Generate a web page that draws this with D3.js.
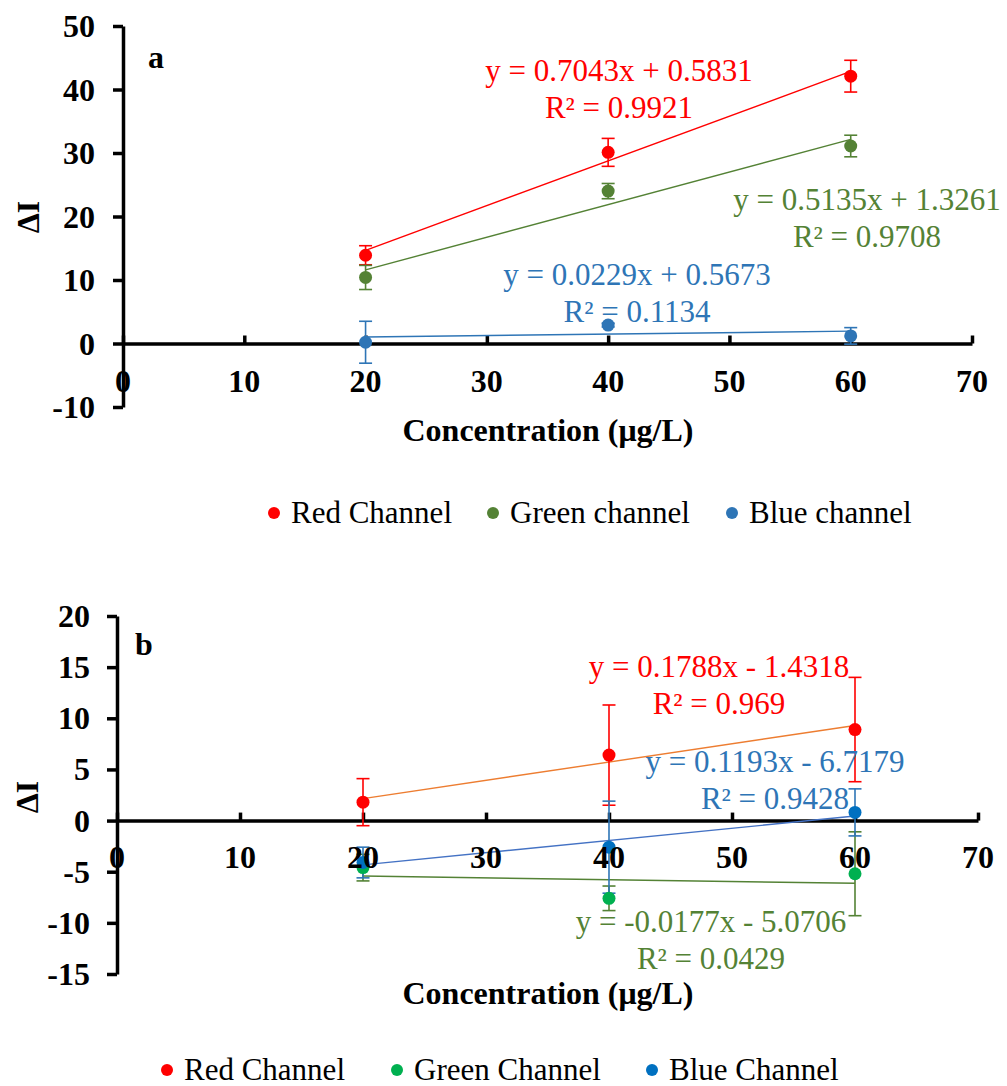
<!DOCTYPE html>
<html>
<head>
<meta charset="utf-8">
<script src="https://cdn.jsdelivr.net/npm/d3@7"></script>
<style>
  body { margin: 0; background: #fff; }
  svg { display: block; font-family: "Liberation Serif", "Times New Roman", serif; }
</style>
</head>
<body>
<svg width="1007" height="1086"></svg>
<script>
// data
const concentration = [20, 40, 60];
const xTickValues = [0, 10, 20, 30, 40, 50, 60, 70];
const yTicksA = [-10, 0, 10, 20, 30, 40, 50];
const yTicksB = [-15, -10, -5, 0, 5, 10, 15, 20];

const namesA = ["Red Channel", "Green channel", "Blue channel"];
const namesB = ["Red Channel", "Green Channel", "Blue Channel"];

const redA = [13.9, 30.1, 42.1];
const redErrA = [1.5, 2.2, 2.5];
const greenA = [10.4, 24.0, 31.1];
const greenErrA = [1.9, 1.2, 1.7];
const blueA = [0.2, 2.9, 1.2];
const blueErrA = [3.3, 0.3, 1.3];
const slopesA = [0.7043, 0.5135, 0.0229];
const interceptsA = [0.5831, 1.3261, 0.5673];
const r2A = ["0.9921", "0.9708", "0.1134"];

const redB = [1.8, 6.4, 8.9];
const redErrB = [2.3, 4.9, 5.1];
const greenB = [-4.6, -7.6, -5.2];
const greenErrB = [1.3, 1.2, 4.1];
const blueB = [-4.1, -2.6, 0.8];
const blueErrB = [1.5, 4.5, 2.3];
const slopesB = [0.1788, -0.0177, 0.1193];
const interceptsB = [-1.4318, -5.0706, -6.7179];
const r2B = ["0.969", "0.0429", "0.9428"];

const svg = d3.select("svg");

function eqText(s, b) {
    return `y = ${s.toFixed(4)}x ${b < 0 ? "-" : "+"} ${Math.abs(b).toFixed(4)}`;
}

function panel(p) {
    const g = svg.append("g");
    const x = d3.scaleLinear().domain([0, 70]).range(p.xr);
    const y = d3.scaleLinear().domain(p.yd).range(p.yr);

    // axes (lines + ticks)
    g.append("g")
        .attr("transform", `translate(0,${y(0)})`)
        .call(d3.axisBottom(x).tickValues(xTickValues).tickSizeInner(-8).tickSizeOuter(0).tickFormat(""))
        .call(a => a.selectAll("path,line").attr("stroke", "#000").attr("stroke-width", 3.5));
    g.append("g")
        .attr("transform", `translate(${x(0)},0)`)
        .call(d3.axisLeft(y).tickValues(p.yTicks).tickSizeInner(10).tickSizeOuter(0).tickFormat(""))
        .call(a => a.selectAll("path,line").attr("stroke", "#000").attr("stroke-width", 3.5));

    // trendlines
    p.series.forEach(s => {
        g.append("line")
            .attr("x1", x(concentration[0])).attr("x2", x(concentration[2]))
            .attr("y1", y(s.slope * concentration[0] + s.icpt))
            .attr("y2", y(s.slope * concentration[2] + s.icpt))
            .attr("stroke", s.line).attr("stroke-width", 1.4);
    });

    // error bars
    p.series.forEach(s => {
        const eb = g.append("g").attr("stroke", s.errc).attr("stroke-width", 1.6);
        concentration.forEach((c, i) => {
            const hi = y(s.vals[i] + s.err[i]), lo = y(s.vals[i] - s.err[i]);
            eb.append("line").attr("x1", x(c)).attr("x2", x(c)).attr("y1", hi).attr("y2", lo);
            eb.append("line").attr("x1", x(c) - 6.5).attr("x2", x(c) + 6.5).attr("y1", hi).attr("y2", hi);
            eb.append("line").attr("x1", x(c) - 6.5).attr("x2", x(c) + 6.5).attr("y1", lo).attr("y2", lo);
        });
    });

    // markers
    p.series.forEach(s => {
        g.selectAll(null)
            .data(s.vals)
            .enter()
            .append("circle")
            .attr("cx", (d, i) => x(concentration[i]))
            .attr("cy", d => y(d))
            .attr("r", 6.5)
            .attr("fill", s.marker);
    });

    // tick labels
    g.selectAll(null)
        .data(xTickValues)
        .enter()
        .append("text")
        .attr("x", d => x(d))
        .attr("y", p.xLabelY)
        .attr("text-anchor", "middle")
        .style("font-size", "32px").style("font-weight", "bold")
        .text(d => d);
    g.selectAll(null)
        .data(p.yTicks)
        .enter()
        .append("text")
        .attr("x", x(0) - p.yLabelGap)
        .attr("y", d => y(d) + 11)
        .attr("text-anchor", "end")
        .style("font-size", "32px").style("font-weight", "bold")
        .text(d => d);

    // titles
    g.append("text")
        .attr("x", 548).attr("y", p.titleY)
        .attr("text-anchor", "middle")
        .style("font-size", "32px").style("font-weight", "bold")
        .text("Concentration (μg/L)");
    g.append("text")
        .attr("transform", `translate(${p.yTitle[0]},${p.yTitle[1]}) rotate(-90)`)
        .attr("text-anchor", "middle")
        .attr("dy", "0.35em")
        .style("font-size", "32px").style("font-weight", "bold")
        .text("ΔI");
    g.append("text")
        .attr("x", p.letter[0]).attr("y", p.letter[1])
        .style("font-size", "32px").style("font-weight", "bold")
        .text(p.letter[2]);

    // equations
    p.series.forEach(s => {
        const t = g.append("text")
            .attr("text-anchor", "middle")
            .attr("fill", s.txt)
            .style("font-size", "31px");
        t.append("tspan").attr("x", s.eq[0]).attr("y", s.eq[1]).text(eqText(s.slope, s.icpt));
        t.append("tspan").attr("x", s.eq[0]).attr("y", s.eq[1] + 37).text(`R² = ${s.r2}`);
    });

    // legend
    p.series.forEach((s, i) => {
        g.append("circle")
            .attr("cx", p.legX[i]).attr("cy", p.legY)
            .attr("r", 6).attr("fill", s.marker);
        g.append("text")
            .attr("x", p.legX[i] + 17).attr("y", p.legY + 10)
            .style("font-size", "31px")
            .text(s.name);
    });
}

panel({
    xr: [123, 972], yd: [-10, 50], yr: [407, 26], yTicks: yTicksA,
    xLabelY: 392, yLabelGap: 28, titleY: 441, yTitle: [28, 217], letter: [148, 68, "a"],
    legX: [274, 493, 732], legY: 513,
    series: [
        { name: namesA[0], vals: redA, err: redErrA, slope: slopesA[0], icpt: interceptsA[0], r2: r2A[0],
          marker: "#ff0000", line: "#ff0000", errc: "#ff0000", txt: "#ff0000", eq: [619, 81] },
        { name: namesA[1], vals: greenA, err: greenErrA, slope: slopesA[1], icpt: interceptsA[1], r2: r2A[1],
          marker: "#548235", line: "#548235", errc: "#548235", txt: "#548235", eq: [867, 210] },
        { name: namesA[2], vals: blueA, err: blueErrA, slope: slopesA[2], icpt: interceptsA[2], r2: r2A[2],
          marker: "#2e75b6", line: "#2e75b6", errc: "#2e75b6", txt: "#2e75b6", eq: [637, 285] }
    ]
});

panel({
    xr: [117, 978], yd: [-15, 20], yr: [974, 616], yTicks: yTicksB,
    xLabelY: 868, yLabelGap: 27, titleY: 1004, yTitle: [27, 797], letter: [135, 655, "b"],
    legX: [167, 397, 652], legY: 1070,
    series: [
        { name: namesB[0], vals: redB, err: redErrB, slope: slopesB[0], icpt: interceptsB[0], r2: r2B[0],
          marker: "#ff0000", line: "#ed7d31", errc: "#ff0000", txt: "#ff0000", eq: [719, 677] },
        { name: namesB[1], vals: greenB, err: greenErrB, slope: slopesB[1], icpt: interceptsB[1], r2: r2B[1],
          marker: "#00b050", line: "#548235", errc: "#548235", txt: "#548235", eq: [711, 932] },
        { name: namesB[2], vals: blueB, err: blueErrB, slope: slopesB[2], icpt: interceptsB[2], r2: r2B[2],
          marker: "#0070c0", line: "#4472c4", errc: "#2e75b6", txt: "#2e75b6", eq: [775, 772] }
    ]
});
</script>
</body>
</html>
